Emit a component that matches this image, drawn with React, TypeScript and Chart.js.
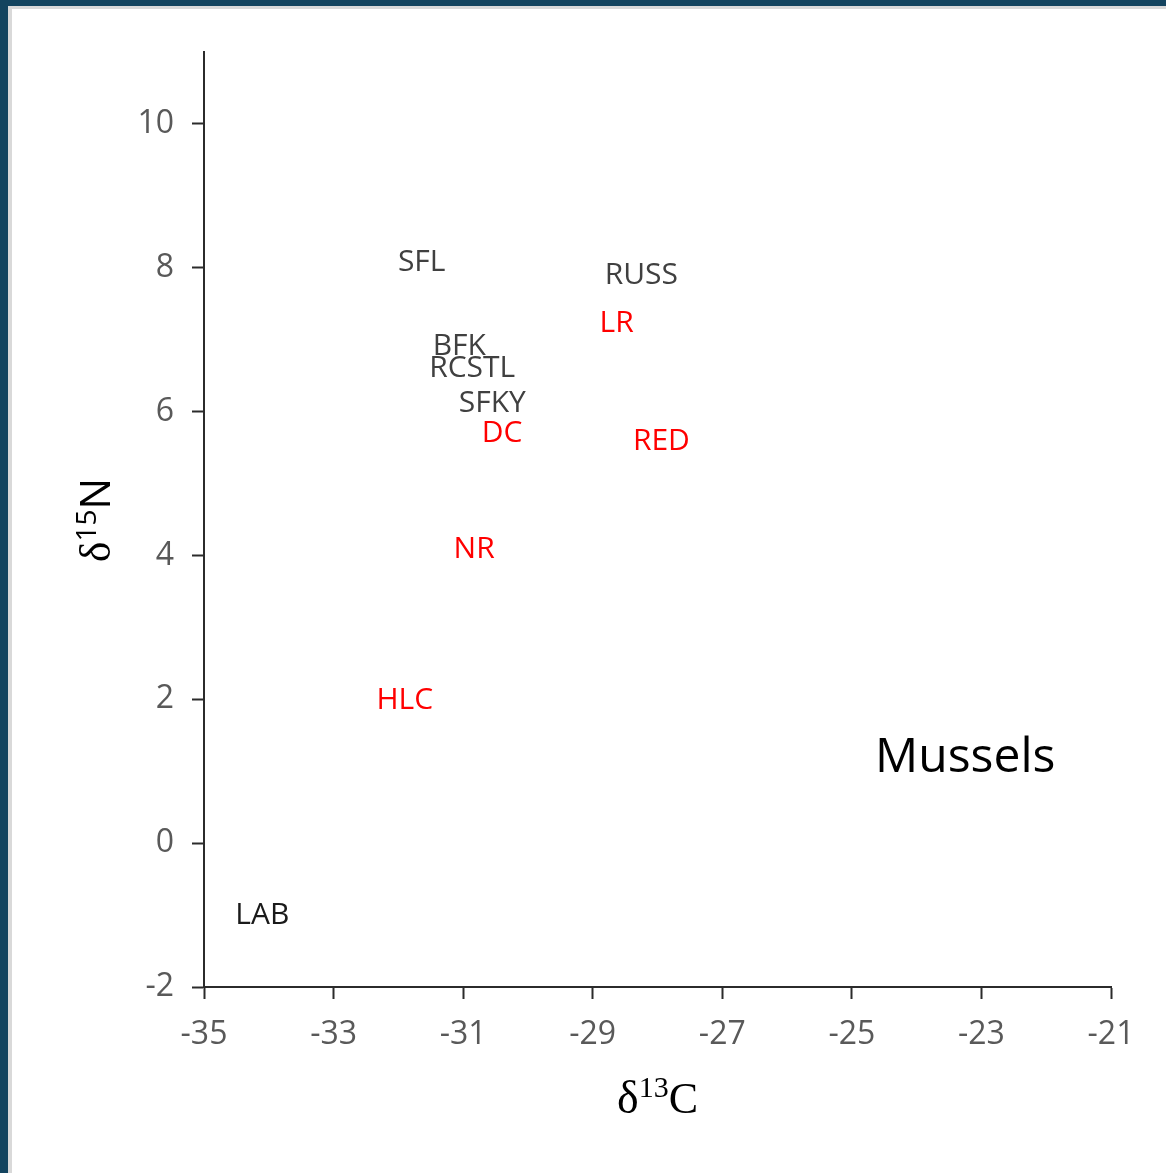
import { useEffect, useRef } from 'react';
import { Chart, registerables } from 'chart.js';

Chart.register(...registerables);

// Sampling sites, carbon and nitrogen isotope means
const sites = ['SFL', 'RUSS', 'LR', 'BFK', 'RCSTL', 'SFKY', 'DC', 'RED', 'NR', 'HLC', 'LAB'];
const d13C = [-31.64, -28.25, -28.63, -31.06, -30.86, -30.55, -30.4, -27.94, -30.83, -31.9, -34.1];
const d15N = [8.11, 7.92, 7.25, 6.94, 6.63, 6.14, 5.73, 5.61, 4.12, 2.02, -0.98];
const siteColors = [
  '#404040', '#404040', '#ff0000', '#404040', '#404040', '#404040',
  '#ff0000', '#ff0000', '#ff0000', '#ff0000', '#1a1a1a',
];

// Axis ranges and tick values
const xRange = [-35, -21];
const yRange = [-2, 11];
const xTickValues = [-35, -33, -31, -29, -27, -25, -23, -21];
const yTickValues = [-2, 0, 2, 4, 6, 8, 10];

// Panel caption and its place in data units
const panelLabel = 'Mussels';
const panelLabelAt = { x: -23.25, y: 1.23 };

const W = 1166;
const H = 1173;
const SANS = '"Open Sans", "Noto Sans", sans-serif';
const SERIF = '"Liberation Serif", "DejaVu Serif", serif';

const framePlugin = {
  id: 'frame',
  beforeDraw(chart: any) {
    const ctx = chart.ctx;
    ctx.save();
    ctx.fillStyle = '#ffffff';
    ctx.fillRect(0, 0, W, H);
    ctx.fillStyle = '#d9d9d9';
    ctx.fillRect(8, 6, 4, H);
    ctx.fillRect(8, 6, W, 3);
    ctx.fillStyle = '#13445f';
    ctx.fillRect(0, 0, 8, H);
    ctx.fillRect(0, 0, W, 6);
    ctx.restore();
  },
};

const labelsPlugin = {
  id: 'siteLabels',
  afterDatasetsDraw(chart: any) {
    const ctx = chart.ctx;
    const meta = chart.getDatasetMeta(0);
    const size = 30;
    ctx.save();
    ctx.font = `${size}px ${SANS}`;
    ctx.textAlign = 'center';
    ctx.textBaseline = 'alphabetic';
    meta.data.forEach((pt: any, i: number) => {
      ctx.fillStyle = siteColors[i];
      ctx.fillText(sites[i], pt.x, pt.y + size * 0.714 / 2);
    });
    // panel caption
    const xs = chart.scales.x;
    const ys = chart.scales.y;
    const capSize = 48;
    ctx.font = `${capSize}px ${SANS}`;
    ctx.fillStyle = '#000000';
    ctx.fillText(
      panelLabel,
      xs.getPixelForValue(panelLabelAt.x),
      ys.getPixelForValue(panelLabelAt.y) + capSize * 0.714 / 2,
    );
    ctx.restore();
  },
};

// δ13C and δ15N axis titles with raised mass numbers
const titlesPlugin = {
  id: 'isoTitles',
  afterDraw(chart: any) {
    const ctx = chart.ctx;
    const area = chart.chartArea;
    ctx.save();
    ctx.fillStyle = '#000000';
    ctx.textBaseline = 'alphabetic';
    ctx.textAlign = 'left';

    // x title
    const parts = [
      { t: 'δ', font: `46px ${SERIF}`, dy: 0 },
      { t: '13', font: `30px ${SERIF}`, dy: -16 },
      { t: 'C', font: `44px ${SERIF}`, dy: 0 },
    ];
    let total = 0;
    parts.forEach((p) => { ctx.font = p.font; total += ctx.measureText(p.t).width; });
    let x = (area.left + area.right) / 2 - total / 2;
    const base = 1113;
    parts.forEach((p) => {
      ctx.font = p.font;
      ctx.fillText(p.t, x, base + p.dy);
      x += ctx.measureText(p.t).width;
    });

    // y title, rotated
    const yParts = [
      { t: 'δ', font: `44px ${SERIF}`, dy: 0 },
      { t: '15', font: `28px ${SANS}`, dy: -14 },
      { t: 'N', font: `42px ${SANS}`, dy: 0 },
    ];
    let ytotal = 0;
    yParts.forEach((p) => { ctx.font = p.font; ytotal += ctx.measureText(p.t).width; });
    ctx.translate(110, 520);
    ctx.rotate(-Math.PI / 2);
    let yx = -ytotal / 2;
    yParts.forEach((p) => {
      ctx.font = p.font;
      ctx.fillText(p.t, yx, p.dy);
      yx += ctx.measureText(p.t).width;
    });
    ctx.restore();
  },
};

export default function App() {
  const ref = useRef<HTMLCanvasElement | null>(null);

  useEffect(() => {
    if (!ref.current) return;
    const points = sites.map((_, i) => ({ x: d13C[i], y: d15N[i] }));
    const axisColor = '#2b2b2b';
    const chart = new Chart(ref.current, {
      type: 'scatter',
      data: {
        datasets: [
          {
            label: 'sites',
            data: points,
            pointRadius: 0,
            pointHoverRadius: 0,
            showLine: false,
          },
        ],
      },
      options: {
        animation: false,
        responsive: false,
        events: [],
        layout: { padding: { left: 0, top: 52, right: 55, bottom: 0 } },
        plugins: {
          legend: { display: false },
          tooltip: { enabled: false },
          title: { display: false },
        },
        scales: {
          x: {
            type: 'linear',
            min: xRange[0],
            max: xRange[1],
            afterBuildTicks: (s: any) => { s.ticks = xTickValues.map((v) => ({ value: v })); },
            afterFit: (s: any) => { s.height = H - 987; },
            border: { display: true, color: axisColor, width: 2 },
            grid: {
              display: true,
              drawOnChartArea: false,
              drawTicks: true,
              tickLength: 12,
              tickColor: axisColor,
              tickWidth: 2,
            },
            ticks: {
              color: '#595959',
              font: { family: SANS, size: 32 },
              padding: 17,
              maxRotation: 0,
              autoSkip: false,
            },
          },
          y: {
            type: 'linear',
            min: yRange[0],
            max: yRange[1],
            afterBuildTicks: (s: any) => { s.ticks = yTickValues.map((v) => ({ value: v })); },
            afterFit: (s: any) => { s.width = 204; },
            border: { display: true, color: axisColor, width: 2 },
            grid: {
              display: true,
              drawOnChartArea: false,
              drawTicks: true,
              tickLength: 12,
              tickColor: axisColor,
              tickWidth: 2,
            },
            ticks: {
              color: '#595959',
              font: { family: SANS, size: 32 },
              padding: 18,
              autoSkip: false,
            },
          },
        },
      },
      plugins: [framePlugin, labelsPlugin, titlesPlugin],
    });
    return () => chart.destroy();
  }, []);

  return (
    <div style={{ position: 'fixed', left: 0, top: 0, width: W, height: H, overflow: 'hidden' }}>
      <canvas ref={ref} width={W} height={H} style={{ display: 'block', width: W, height: H }} />
    </div>
  );
}
